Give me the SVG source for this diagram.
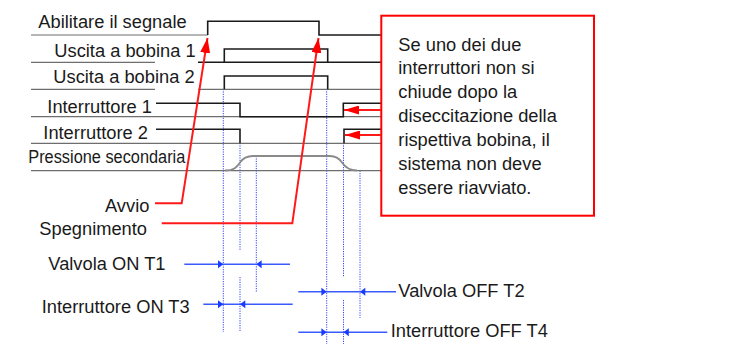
<svg xmlns="http://www.w3.org/2000/svg" width="754" height="344" viewBox="0 0 754 344">
<defs>
<style>
text{font-family:"Liberation Sans",Arial,sans-serif;font-size:18.3px;fill:#1a1a1a}
.base{stroke:#6e6e6e;stroke-width:1.2;fill:none}
.sig{stroke:#1a1a1a;stroke-width:1.6;fill:none}
.pres{stroke:#8a8a8a;stroke-width:1.8;fill:none}
.dot{stroke:#3344ff;stroke-width:1;stroke-dasharray:1.2 1.2;fill:none}
.dim{stroke:#3b5bff;stroke-width:1.5;fill:none}
.dimh{fill:#1a3cff;stroke:none}
.red{stroke:#ff1a1a;stroke-width:2;fill:none}
.box{stroke:#ff0000;stroke-width:2;fill:#ffffff}
</style>
<marker id="ra" markerUnits="userSpaceOnUse" markerWidth="15" markerHeight="10" refX="15" refY="5" orient="auto">
<path d="M0,0 L15,5 L0,10 z" fill="#ff0000"/>
</marker>
<marker id="rb" markerUnits="userSpaceOnUse" markerWidth="15" markerHeight="9" refX="15" refY="4.5" orient="auto">
<path d="M0,0 L15,4.5 L0,9 z" fill="#ff0000"/>
</marker>
</defs>
<rect width="754" height="344" fill="#ffffff"/>

<g id="guides">
<path class="dot" d="M223.3,89 V332"/>
<path class="dot" d="M240,143 V250 M240,277 V332"/>
<path class="dot" d="M256.3,156 V292"/>
<path class="dot" d="M326.7,89 V344"/>
<path class="dot" d="M343.5,143 V277 M343.5,300 V344"/>
<path class="dot" d="M360,170.7 V318"/>
</g>

<g id="sig-abilitare">
<text x="38.3" y="28.3">Abilitare il segnale</text>
<path class="base" d="M31,35 H207.7"/>
<path class="sig" d="M207.7,35 V21.3 H319 V35 H381"/>
</g>

<g id="sig-bobina1">
<text x="54.3" y="56.7">Uscita a bobina 1</text>
<path class="base" d="M31,62.3 H155"/>
<path class="sig" d="M198,62.3 H381 M224.3,62.3 V49 H327.7 V62.3"/>
</g>

<g id="sig-bobina2">
<text x="53.3" y="83.3">Uscita a bobina 2</text>
<path class="base" d="M31,89.3 H155 M198,89.3 H381"/>
<path class="sig" d="M224.3,89.3 V76 H327.7 V89.3"/>
</g>

<g id="sig-interruttore1">
<text x="47.3" y="112.7">Interruttore 1</text>
<path class="base" d="M31,116.7 H381"/>
<path class="sig" d="M156,103.3 H240 V116.7 H343.3 V103.3 H381"/>
</g>

<g id="sig-interruttore2">
<text x="43.3" y="139.3">Interruttore 2</text>
<path class="base" d="M31,143.3 H381"/>
<path class="sig" d="M156,129.3 H240 V143.3 M344,143.3 V129.3 H381"/>
</g>

<g id="sig-pressione">
<text x="28.3" y="163.3" textLength="157" lengthAdjust="spacingAndGlyphs">Pressione secondaria</text>
<path class="base" d="M31,170.7 H381"/>
<path class="pres" d="M225,170.5 C234,170.5 237,167 240,162.5 C243,158 247,156 253,156 L330,156 C336,156 339,158 342,162.5 C345,167 349,170.5 357,170.5"/>
</g>

<g id="label-avvio">
<text x="105" y="211.7">Avvio</text>
</g>
<g id="label-spegnimento">
<text x="39.3" y="234.5">Spegnimento</text>
</g>

<g id="note">
<rect class="box" x="381.3" y="15.7" width="212.7" height="200"/>
<text x="398.3" y="50.5">Se uno dei due</text>
<text x="398.3" y="74.3">interruttori non si</text>
<text x="398.3" y="98">chiude dopo la</text>
<text x="398.3" y="121.8">diseccitazione della</text>
<text x="398.3" y="145.6">rispettiva bobina, il</text>
<text x="398.3" y="169.6">sistema non deve</text>
<text x="398.3" y="193.6">essere riavviato.</text>
</g>

<g id="dim-t1">
<text x="48.3" y="270">Valvola ON T1</text>
</g>
<g id="dim-t3">
<text x="41.7" y="313.3">Interruttore ON T3</text>
</g>
<g id="dim-t2">
<text x="398.3" y="297">Valvola OFF T2</text>
</g>
<g id="dim-t4">
<text x="390.7" y="336.5">Interruttore OFF T4</text>
</g>

<g id="connectors">
<path class="red" d="M155,203.3 H181.7 L207.5,38" marker-end="url(#ra)"/>
<path class="red" d="M161.7,223.3 H292.3 L318.5,38" marker-end="url(#ra)"/>
<path class="red" d="M381,110 H344" marker-end="url(#rb)"/>
<path class="red" d="M381,135 H345" marker-end="url(#rb)"/>

<path class="dim" d="M184.3,264.3 H290"/>
<polygon class="dimh" points="223.3,264.3 218,260.3 218,268.3"/>
<polygon class="dimh" points="256.3,264.3 261.6,260.3 261.6,268.3"/>

<path class="dim" d="M203.3,304.3 H292.7"/>
<polygon class="dimh" points="223.3,304.3 218,300.3 218,308.3"/>
<polygon class="dimh" points="240,304.3 245.3,300.3 245.3,308.3"/>

<path class="dim" d="M298.3,291.7 H396"/>
<polygon class="dimh" points="326.7,291.7 321.4,287.7 321.4,295.7"/>
<polygon class="dimh" points="360,291.7 365.3,287.7 365.3,295.7"/>

<path class="dim" d="M298.3,332.3 H387.3"/>
<polygon class="dimh" points="326.7,332.3 321.4,328.3 321.4,336.3"/>
<polygon class="dimh" points="343.5,332.3 348.8,328.3 348.8,336.3"/>
</g>
</svg>
